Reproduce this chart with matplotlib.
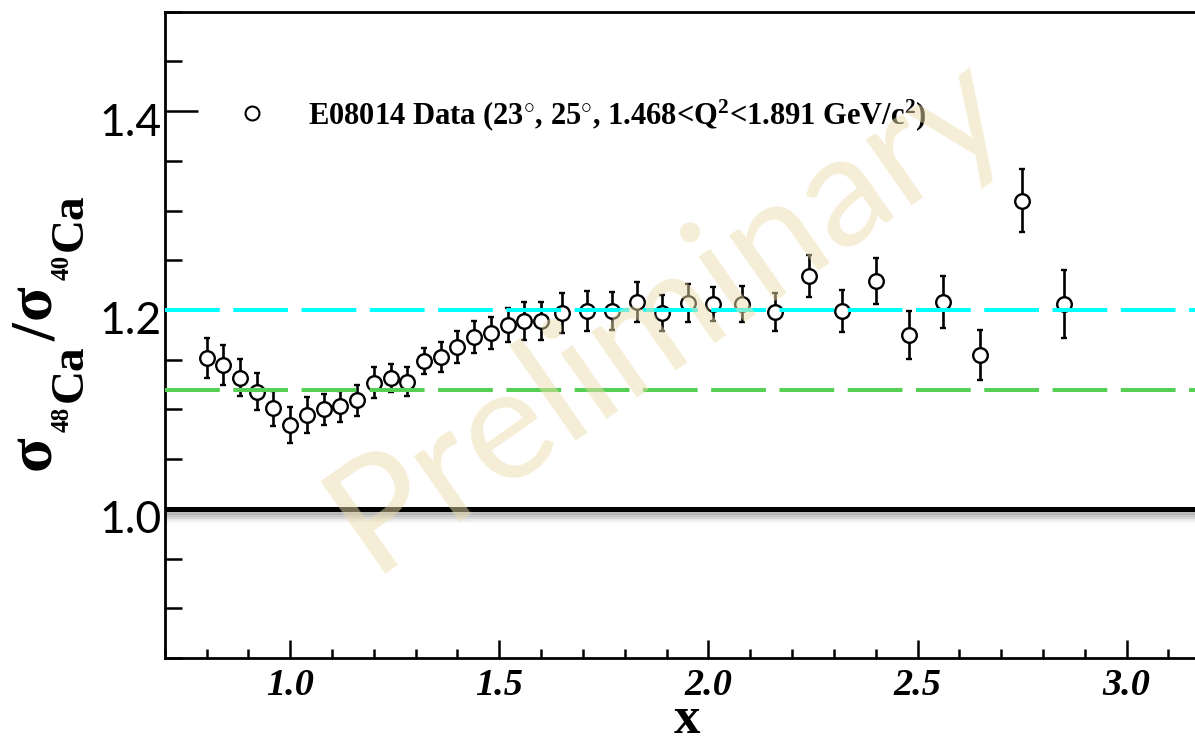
import matplotlib
matplotlib.use("Agg")
import matplotlib.pyplot as plt
import matplotlib.patheffects as pe
import matplotlib.transforms as mtransforms
from matplotlib.lines import Line2D
from matplotlib.ticker import MultipleLocator
from matplotlib.font_manager import FontProperties

# Cross-section ratio 48Ca / 40Ca versus x
x_vals = [0.80, 0.84, 0.88, 0.92, 0.96, 1.00, 1.04, 1.08, 1.12, 1.16,
          1.20, 1.24, 1.28, 1.32, 1.36, 1.40, 1.44, 1.48, 1.52, 1.56,
          1.60, 1.65, 1.71, 1.77, 1.83, 1.89, 1.95, 2.01, 2.08, 2.16,
          2.24, 2.32, 2.40, 2.48, 2.56, 2.65, 2.75, 2.85]
ratio = [1.152, 1.145, 1.132, 1.118, 1.101, 1.084, 1.094, 1.100, 1.103, 1.109,
         1.127, 1.132, 1.128, 1.149, 1.153, 1.163, 1.173, 1.177, 1.185, 1.189,
         1.189, 1.197, 1.199, 1.199, 1.208, 1.197, 1.207, 1.206, 1.206, 1.198,
         1.234, 1.199, 1.229, 1.175, 1.208, 1.155, 1.310, 1.206]
ratio_err = [0.020, 0.020, 0.019, 0.019, 0.018, 0.018, 0.018, 0.016, 0.016, 0.016,
             0.016, 0.014, 0.015, 0.013, 0.015, 0.016, 0.016, 0.016, 0.017, 0.019,
             0.019, 0.020, 0.020, 0.019, 0.020, 0.018, 0.019, 0.017, 0.018, 0.019,
             0.021, 0.021, 0.023, 0.024, 0.026, 0.025, 0.032, 0.034]

# Reference levels
level_upper = 1.20
level_lower = 1.12
level_unity = 1.00

xtick_vals = [1.0, 1.5, 2.0, 2.5, 3.0]
xtick_labels = ["1.0", "1.5", "2.0", "2.5", "3.0"]
ytick_vals = [1.0, 1.2, 1.4]
ytick_labels = ["1.0", "1.2", "1.4"]

legend_label = r"E08014 Data (23$^{\circ}$, 25$^{\circ}$, 1.468<Q$^{2}$<1.891 GeV/c$^{2}$)"
xlabel_text = r"$x$"
watermark = "Preliminary"

# y-axis title pieces: (text, font size in pt, baseline position in px from the left edge)
ylabel_parts = [("σ", 46, 50), ("48", 18, 69), ("Ca", 34, 82),
                ("/", 46, 55),
                ("σ", 46, 50), ("40", 18, 69), ("Ca", 34, 82)]

plt.rcParams["mathtext.fontset"] = "custom"
plt.rcParams["mathtext.rm"] = "Liberation Serif:bold"
plt.rcParams["mathtext.it"] = "Liberation Serif:bold"
plt.rcParams["mathtext.bf"] = "Liberation Serif:bold"

W, H = 1195, 745
fig = plt.figure(figsize=(W / 100, H / 100), dpi=100, facecolor="white")
ax_l, ax_r, ax_b, ax_t = 164.7, 1210.3, 658.0, 11.7
ax = fig.add_axes([ax_l / W, (H - ax_b) / H, (ax_r - ax_l) / W, (ax_b - ax_t) / H])

ax.set_xlim(0.7, 3.2)
ax.set_ylim(0.85, 1.5)

# Data points with error bars
ax.errorbar(x_vals, ratio, yerr=ratio_err, fmt="o", ms=10.5, mfc="white",
            mec="black", mew=1.7, ecolor="black", elinewidth=1.9,
            capsize=2.0, capthick=1.9, zorder=3)

# Horizontal reference lines
dash = (13.6, 3.35)
ax.axhline(level_upper, color="#00FFFF", lw=2.9, dashes=dash, zorder=4)
ax.axhline(level_lower, color="#55D055", lw=2.9, dashes=dash, zorder=4)
shadow = [pe.SimpleLineShadow(offset=(0, -d), shadow_color="black", alpha=a, linewidth=5)
          for d, a in [(1.5, 0.12), (3, 0.09), (4.5, 0.07), (6, 0.05), (7.5, 0.03)]]
ax.axhline(level_unity, color="black", lw=3.6, zorder=5,
           path_effects=shadow + [pe.Normal()])

# Axes styling
for s in ax.spines.values():
    s.set_linewidth(2.0)
ax.spines["right"].set_visible(False)

ax.set_xticks(xtick_vals)
ax.set_xticklabels(xtick_labels,
                   fontproperties=FontProperties(family="Liberation Serif", weight="bold",
                                                 style="italic", size=27.5))
ax.xaxis.set_minor_locator(MultipleLocator(0.1))
ax.tick_params(axis="x", which="major", direction="in", length=13, width=1.8, pad=7)
ax.tick_params(axis="x", which="minor", direction="in", length=6.5, width=1.8)

ax.set_yticks(ytick_vals)
ax.set_yticklabels(ytick_labels, fontproperties=FontProperties(family="Lato", size=32))
ax.yaxis.set_minor_locator(MultipleLocator(0.05))
ax.tick_params(axis="y", which="major", direction="in", length=24, width=1.8, pad=2)
ax.tick_params(axis="y", which="minor", direction="in", length=12, width=1.8)
ax.tick_params(top=False, right=False, which="both")
shift = mtransforms.ScaledTranslation(0, -0.08, fig.dpi_scale_trans)
for lbl in ax.get_yticklabels():
    lbl.set_transform(lbl.get_transform() + shift)

ax.set_xlabel(xlabel_text, fontsize=38, va="bottom")
ax.xaxis.set_label_coords(0.5, (ax_b - 744) / (ax_b - ax_t))

# Rotated y-axis title, laid out piece by piece
renderer = fig.canvas.get_renderer()
parts = []
for txt, size, _ in ylabel_parts:
    t = fig.text(0, 0, txt, fontsize=size, family="Liberation Serif", weight="bold",
                 rotation=90, rotation_mode="anchor", ha="left", va="baseline")
    parts.append(t)
gap = 4.0
lengths = [t.get_window_extent(renderer).height for t in parts]
total = sum(lengths) + gap * (len(parts) - 1)
y_center = H - 332
u = y_center - total / 2
for t, (txt, size, xb), length in zip(parts, ylabel_parts, lengths):
    t.set_position((xb / W, u / H))
    u += length + gap

# Legend
handle = Line2D([], [], ls="none", marker="o", ms=10, mfc="white", mec="black", mew=1.5)
ax.legend([handle], [legend_label], loc="center left",
          bbox_to_anchor=(221 / W, 1 - 115 / H), bbox_transform=fig.transFigure,
          frameon=False, borderpad=0, borderaxespad=0, handlelength=2.0,
          handletextpad=0.85,
          prop=FontProperties(family="Liberation Serif", weight="bold", size=22))

# Watermark
fig.text(667 / W, 1 - 312 / H, watermark, fontsize=114, family="Lato",
         color="#EBDCAB", alpha=0.5, rotation=35, ha="center", va="center",
         rotation_mode="anchor", zorder=10)

fig.savefig("out.png", dpi=100, facecolor="white")
